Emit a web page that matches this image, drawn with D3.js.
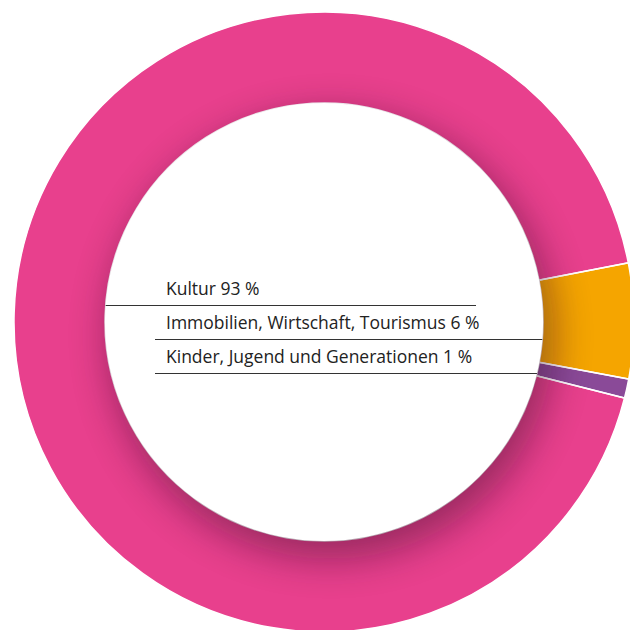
<!DOCTYPE html>
<html>
<head>
<meta charset="utf-8">
<script src="https://cdn.jsdelivr.net/npm/d3@7"></script>
<style>
  html, body { margin: 0; padding: 0; background: #fff; }
  svg { display: block; }
</style>
</head>
<body>
<svg id="chart" width="630" height="630"></svg>
<script>
// data
const categories = ["Kultur", "Immobilien, Wirtschaft, Tourismus", "Kinder, Jugend und Generationen"];
const shares = [93, 6, 1];
const colors = ["#e8408d", "#f5a500", "#8a4a98"];

const width = 630, height = 630;
const cx = 324, cy = 322;
const outerR = 310, innerR = 219;

const svg = d3.select("#chart");
const defs = svg.append("defs");

// blur for the shadow the white centre throws on the ring
defs.append("filter")
  .attr("id", "blur")
  .attr("x", "-50%").attr("y", "-50%")
  .attr("width", "200%").attr("height", "200%")
  .append("feGaussianBlur")
  .attr("stdDeviation", 19);

const ringArc = d3.arc().innerRadius(innerR).outerRadius(outerR);

defs.append("clipPath")
  .attr("id", "ringClip")
  .append("path")
  .attr("transform", `translate(${cx},${cy})`)
  .attr("d", ringArc({ startAngle: 0, endAngle: 2 * Math.PI }));

const start = 104.2 * Math.PI / 180;
const pie = d3.pie().sort(null).startAngle(start).endAngle(start + 2 * Math.PI);
const arcs = pie(shares);

const g = svg.append("g").attr("transform", `translate(${cx},${cy})`);

// slices
g.selectAll("path.slice")
  .data(arcs)
  .enter()
  .append("path")
  .attr("class", "slice")
  .attr("d", ringArc)
  .attr("fill", (d, i) => colors[i]);

// soft inner shadow, offset down and right
svg.append("g")
  .attr("clip-path", "url(#ringClip)")
  .append("circle")
  .attr("cx", cx + 7)
  .attr("cy", cy + 14)
  .attr("r", innerR + 4)
  .attr("fill", "#3a0a2a")
  .attr("opacity", 0.45)
  .attr("filter", "url(#blur)");

// white separators between slices
g.selectAll("path.sep")
  .data(arcs)
  .enter()
  .append("path")
  .attr("class", "sep")
  .attr("d", ringArc)
  .attr("fill", "none")
  .attr("stroke", "#fff")
  .attr("stroke-width", 1.5);

// labels
const rowY = d3.scalePoint().domain(categories).range([295, 363]);
const edgeX = (y, side) => cx + side * Math.sqrt(innerR * innerR - (y - cy) * (y - cy));

const labels = svg.append("g")
  .attr("font-family", "'Open Sans', 'Noto Sans', sans-serif")
  .attr("font-size", 17.5)
  .attr("fill", "#222");

labels.selectAll("text")
  .data(categories)
  .enter()
  .append("text")
  .attr("x", 166)
  .attr("y", (d) => rowY(d))
  .text((d, i) => d + " " + shares[i] + " %");

labels.selectAll("line")
  .data(categories)
  .enter()
  .append("line")
  .attr("x1", (d, i) => i === 0 ? edgeX(rowY(d) + 10, -1) : 155)
  .attr("x2", (d, i) => i === 0 ? 476 : edgeX(rowY(d) + 10, 1))
  .attr("y1", (d) => rowY(d) + 10.5)
  .attr("y2", (d) => rowY(d) + 10.5)
  .attr("stroke", "#333")
  .attr("stroke-width", 1);
</script>
</body>
</html>
